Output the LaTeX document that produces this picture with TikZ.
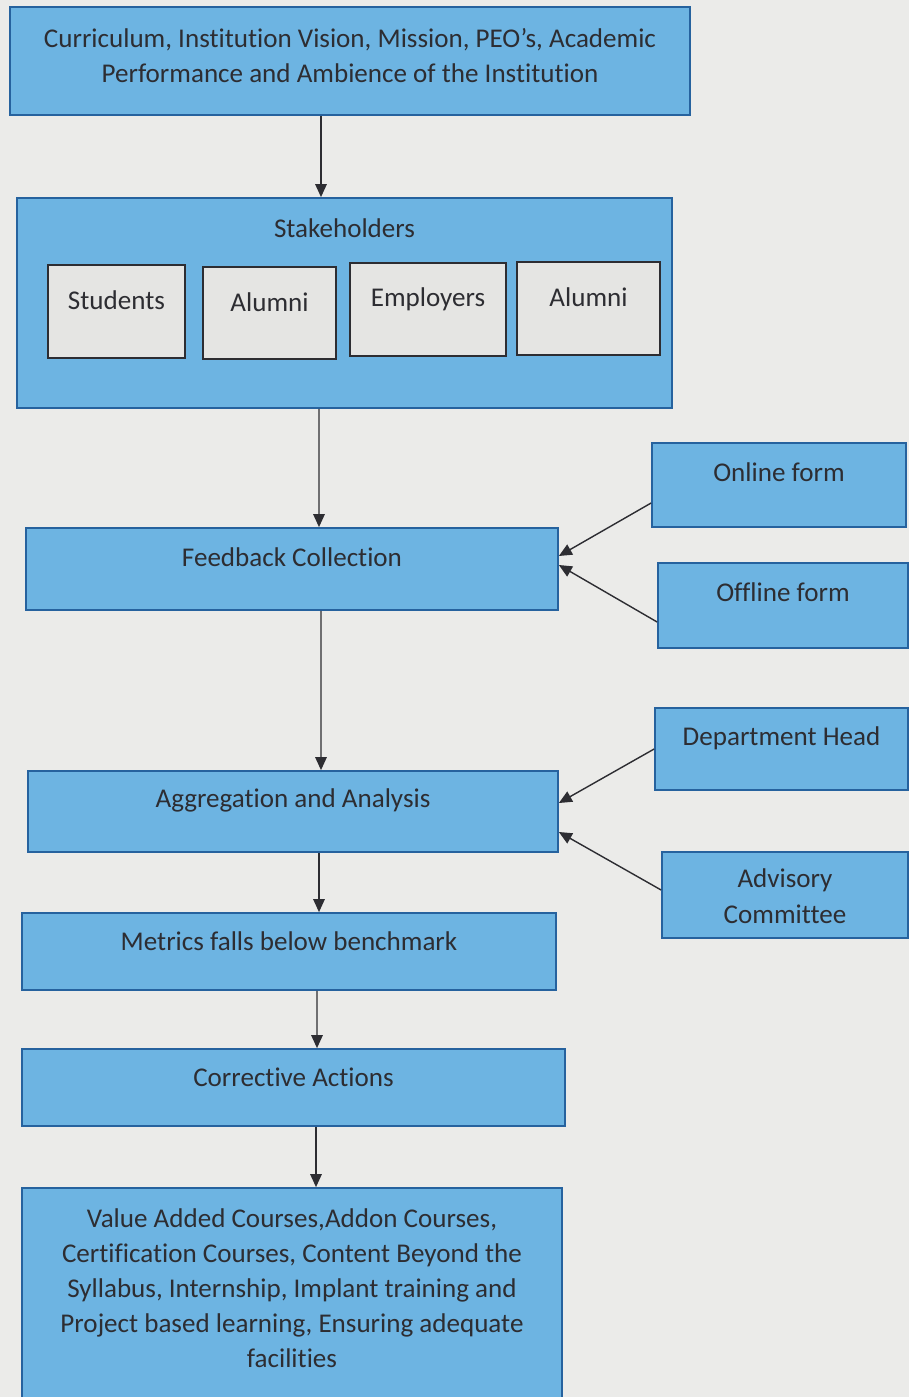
\documentclass[tikz,border=0pt]{standalone}
\usepackage{fontspec}
\setmainfont{Carlito}[Ligatures=NoCommon]
\usetikzlibrary{positioning, arrows.meta}
\definecolor{boxblue}{RGB}{109,180,226}
\definecolor{boxline}{RGB}{38,98,158}
\definecolor{paper}{RGB}{235,235,233}
\definecolor{cardgray}{RGB}{229,229,227}
\definecolor{inkgray}{RGB}{45,45,50}
\tikzstyle{stage} = [rectangle, draw=boxline, line width=1pt, fill=boxblue]
\tikzstyle{member} = [rectangle, draw=inkgray, line width=1.3pt, fill=cardgray]
\tikzstyle{caption} = [align=center, text=inkgray, font=\fontsize{15.4}{20}\selectfont, inner sep=0pt]
\tikzstyle{arrow} = [line width=0.8pt, draw=inkgray, -{Triangle[length=2.6mm,width=2.3mm]}]
\begin{document}
\begin{tikzpicture}

\fill [paper] (0,0) rectangle (18.18,-27.94);
\useasboundingbox (0,0) rectangle (18.18,-27.94);

\node (inputs) [stage, minimum width=13.6cm, minimum height=2.16cm] at (7.0,-1.22) {};
\node (inputstext) [caption] at ([yshift=-0.99cm]inputs.north) {Curriculum, Institution Vision, Mission, PEO’s, Academic\\Performance and Ambience of the Institution};

\node (stake) [stage, minimum width=13.1cm, minimum height=4.2cm] at (6.89,-6.06) {};
\node (staketext) [caption] at ([yshift=-0.62cm]stake.north) {Stakeholders};
\node (students) [member, minimum width=2.74cm, minimum height=1.86cm] at (2.33,-6.23) {};
\node (alumnione) [member, minimum width=2.66cm, minimum height=1.84cm] at (5.39,-6.26) {};
\node (employers) [member, minimum width=3.12cm, minimum height=1.86cm] at (8.56,-6.19) {};
\node (alumnitwo) [member, minimum width=2.86cm, minimum height=1.86cm] at (11.77,-6.17) {};
\node (studentstext) [caption] at ([yshift=-0.72cm]students.north) {Students};
\node (alumnionetext) [caption] at ([yshift=-0.72cm]alumnione.north) {Alumni};
\node (employerstext) [caption] at ([yshift=-0.74cm]employers.north) {Employers};
\node (alumnitwotext) [caption] at ([yshift=-0.72cm]alumnitwo.north) {Alumni};

\node (collect) [stage, minimum width=10.64cm, minimum height=1.64cm] at (5.84,-11.38) {};
\node (collecttext) [caption] at ([yshift=-0.6cm]collect.north) {Feedback Collection};
\node (online) [stage, minimum width=5.08cm, minimum height=1.68cm] at (15.58,-9.70) {};
\node (onlinetext) [caption] at ([yshift=-0.6cm]online.north) {Online form};
\node (offline) [stage, minimum width=5.0cm, minimum height=1.7cm] at (15.66,-12.11) {};
\node (offlinetext) [caption] at ([yshift=-0.6cm]offline.north) {Offline form};

\node (analysis) [stage, minimum width=10.6cm, minimum height=1.62cm] at (5.86,-16.23) {};
\node (analysistext) [caption] at ([yshift=-0.6cm]analysis.north) {Aggregation and Analysis};
\node (head) [stage, minimum width=5.06cm, minimum height=1.64cm] at (15.63,-14.98) {};
\node (headtext) [caption] at ([yshift=-0.62cm]head.north) {Department Head};
\node (advisory) [stage, minimum width=4.92cm, minimum height=1.72cm] at (15.70,-17.90) {};
\node (advisorytext) [caption] at ([yshift=-0.9cm]advisory.north) {Advisory\\Committee};

\node (metrics) [stage, minimum width=10.68cm, minimum height=1.54cm] at (5.78,-19.03) {};
\node (metricstext) [caption] at ([yshift=-0.58cm]metrics.north) {Metrics falls below benchmark};
\node (corrective) [stage, minimum width=10.86cm, minimum height=1.54cm] at (5.87,-21.75) {};
\node (correctivetext) [caption] at ([yshift=-0.58cm]corrective.north) {Corrective Actions};
\node (courses) [stage, minimum width=10.8cm, minimum height=4.44cm] at (5.84,-25.98) {};
\node (coursestext) [caption] at ([yshift=-2.02cm]courses.north) {Value Added Courses,Addon Courses,\\Certification Courses, Content Beyond the\\Syllabus, Internship, Implant training and\\Project based learning, Ensuring adequate\\facilities};

\draw [arrow] ([xshift=-0.58cm]inputs.south) -- ([xshift=-0.47cm]stake.north);
\draw [arrow] ([xshift=-0.51cm]stake.south) -- ([xshift=0.54cm]collect.north);
\draw [arrow] ([xshift=0.58cm]collect.south) -- ([xshift=0.56cm]analysis.north);
\draw [arrow] ([xshift=0.52cm]analysis.south) -- ([xshift=0.6cm]metrics.north);
\draw [arrow] ([xshift=0.56cm]metrics.south) -- ([xshift=0.47cm]corrective.north);
\draw [arrow] ([xshift=0.45cm]corrective.south) -- ([xshift=0.48cm]courses.north);

\draw [arrow] ([yshift=-0.36cm]online.west) -- ([yshift=0.26cm]collect.east);
\draw [arrow] ([yshift=-0.33cm]offline.west) -- ([yshift=0.08cm]collect.east);
\draw [arrow] (head.west) -- ([yshift=0.17cm]analysis.east);
\draw [arrow] ([yshift=0.1cm]advisory.west) -- ([yshift=-0.41cm]analysis.east);

\end{tikzpicture}
\end{document}
